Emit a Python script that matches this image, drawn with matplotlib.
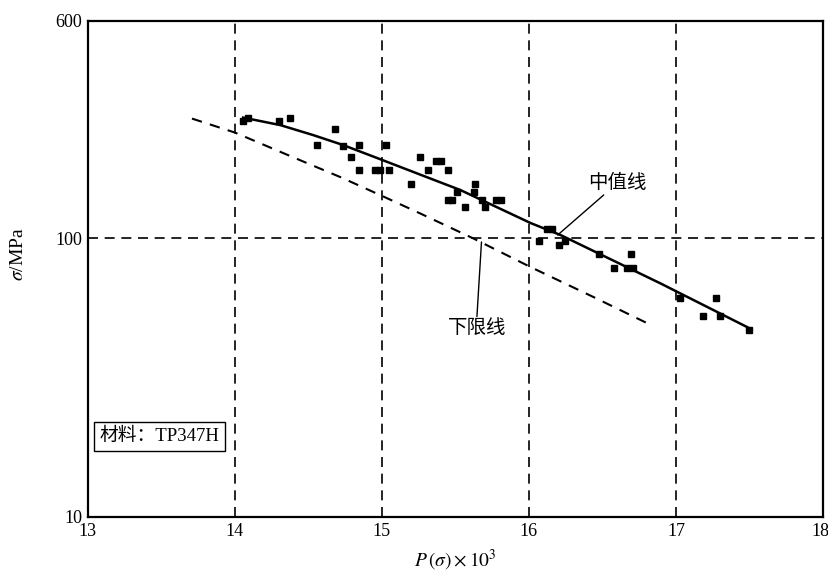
import matplotlib
matplotlib.use("Agg")
import matplotlib.pyplot as plt
from matplotlib.transforms import ScaledTranslation

plt.rcParams['font.family'] = ['Liberation Serif', 'Noto Sans CJK SC']
plt.rcParams['mathtext.fontset'] = 'stix'

# test points: P(sigma) x 1e-3, stress in MPa
p_pts = [14.058, 14.088, 14.303, 14.374, 14.558, 14.683, 14.737, 14.790, 14.846,
         14.846, 14.950, 14.989, 15.028, 15.048, 15.196, 15.257, 15.314, 15.369,
         15.405, 15.446, 15.512, 15.450, 15.478, 15.566, 15.634, 15.629, 15.682,
         15.698, 15.777, 15.813, 16.125, 16.159, 16.065, 16.204, 16.245, 16.479,
         16.578, 16.665, 16.710, 16.692, 17.024, 17.273, 17.187, 17.300, 17.494]
s_pts = [263, 270, 263, 269, 215, 246, 214, 195, 215,
         175, 175, 175, 215, 175, 156, 195, 175, 189,
         189, 175, 146, 136.5, 136.5, 129.5, 156, 146, 136.5,
         129.5, 136.5, 136.5, 107.4, 107.4, 97.5, 94.4, 97.5, 87.4,
         77.9, 77.9, 77.9, 87.4, 60.8, 60.8, 52.7, 52.7, 46.8]

# median curve
p_med = [14.056, 14.308, 14.533, 14.737, 15.003, 15.330, 15.534, 16.011, 16.215, 16.896, 17.496]
s_med = [270.3, 254.1, 233.9, 215.4, 190.4, 163.4, 148.6, 113.2, 102.5, 68.7, 47.6]

# lower limit curve
p_low = [13.708, 14.001, 14.376, 14.717, 15.003, 15.262, 15.623, 16.011, 16.440, 16.808]
s_low = [268.1, 238.8, 196.8, 165.4, 141.4, 122.4, 99.6, 78.7, 61.4, 49.4]

fig = plt.figure(figsize=(8.29, 5.72), dpi=100)
ax = fig.add_axes([0.106, 0.0962, 0.8868, 0.8671])

ax.set_yscale('log')
ax.set_xlim(13, 18)
ax.set_ylim(10, 600)

for xv in [14, 15, 16, 17]:
    ax.axvline(xv, color='black', lw=1.2, ls=(0, (6, 4)))
ax.axhline(100, color='black', lw=1.2, ls=(0, (6, 4)))

ax.plot(p_med, s_med, color='black', lw=1.8)
ax.plot(p_low, s_low, color='black', lw=1.5, ls=(0, (5, 4)))
ax.plot(p_pts, s_pts, 's', color='black', ms=5, ls='none')

ax.set_xticks([13, 14, 15, 16, 17, 18])
ax.set_yticks([10, 100, 600])
ax.set_yticklabels(['10', '100', '600'])
ax.minorticks_off()
ax.tick_params(length=0, labelsize=13, pad=4)
last = ax.get_xticklabels()[-1]
last.set_transform(last.get_transform() + ScaledTranslation(-3 / 100, 0, fig.dpi_scale_trans))
for sp in ax.spines.values():
    sp.set_linewidth(1.6)

ax.set_xlabel(r'$P\,(\sigma)\times10^3$', fontsize=14, labelpad=6)
ax.set_ylabel(r'$\sigma$/MPa', fontsize=14)
ax.yaxis.set_label_coords(-0.083, 0.53)

ax.annotate('中值线', xy=(16.195, 102.5), xytext=(16.399, 157.4),
            fontsize=14, ha='left', va='center',
            arrowprops=dict(arrowstyle='-', color='black', lw=1, shrinkA=0, shrinkB=0,
                            relpos=(0.33, 0.0)))
ax.annotate('下限线', xy=(15.677, 96.8), xytext=(15.446, 47.5),
            fontsize=14, ha='left', va='center',
            arrowprops=dict(arrowstyle='-', color='black', lw=1, shrinkA=0, shrinkB=0,
                            relpos=(0.5, 1.0)))

ax.text(0.016, 0.162, '材料：TP347H', transform=ax.transAxes, fontsize=13.5,
        ha='left', va='center',
        bbox=dict(boxstyle='square,pad=0.3', fc='white', ec='black', lw=1))

fig.savefig('out.png', dpi=100)
